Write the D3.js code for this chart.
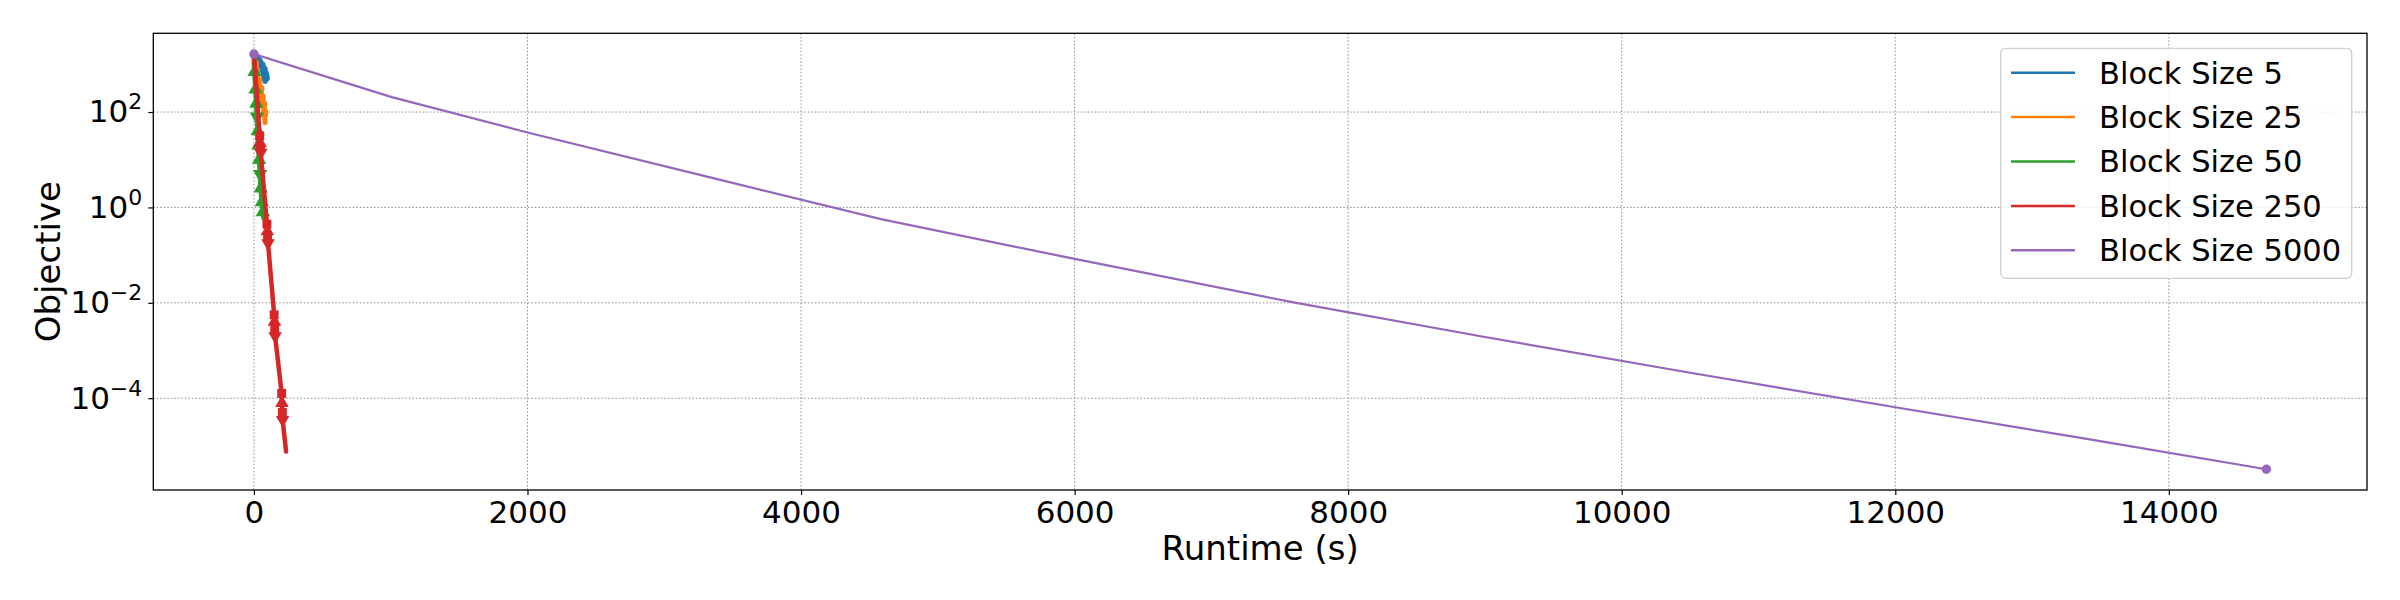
<!DOCTYPE html>
<head>
  <meta charset="utf-8">
  <style>
  body { margin: 0; background: #fff; }
  * { font-family: "DejaVu Sans"; }
  .grid line { stroke: #8c8c8c; stroke-dasharray: 1.5,2; stroke-width: 1; }
  .series { fill: none; stroke-linejoin: round; stroke-linecap: round; }
  </style>
  <title>Objective vs Runtime</title>
</head>
<body>
<svg width="2400" height="600"></svg>
<script src="https://d3js.org/d3.v7.min.js"></script>
<script>
// runtime (s) and objective values
var labels = ["Block Size 5", "Block Size 25", "Block Size 50", "Block Size 250", "Block Size 5000"];
var colors = ["#1f77b4", "#ff7f0e", "#2ca02c", "#d62728", "#9467bd"];

var bs5_t   = [0, 15, 35, 55, 70, 80, 85, 82];
var bs5_y   = [1644, 1400, 1150, 950, 780, 620, 520, 437];

var bs25_t  = [0, 10, 20, 35, 50, 60, 70, 78, 82];
var bs25_y  = [1644, 1000, 700, 450, 300, 200, 140, 95, 60];

var bs50_t  = [0, 5, 12, 18, 22, 28, 33, 38, 45, 50, 58, 65, 72];
var bs50_y  = [1644, 700, 300, 150, 80, 40, 20, 10, 5, 2.5, 1.3, 0.8, 0.6];

var bs250_t = [0, 42, 45, 48, 50, 95, 98, 100, 103, 148, 150, 152, 155, 203, 205, 208, 210, 235];
var bs250_y = [1644, 31.6, 22.4, 17.8, 14.1, 0.447, 0.316, 0.251, 0.178,
               5.6e-3, 4.0e-3, 2.8e-3, 2.0e-3, 1.26e-4, 7.9e-5, 5.0e-5, 3.5e-5, 7.6e-6];

var bs5000_t = [0, 1008, 2000, 3350, 4584, 6000, 7600, 9000, 10500, 12000, 13400, 14713];
var bs5000_y = [1644, 206, 37.3, 4.16, 0.569, 0.0832, 0.0102, 1.92e-3, 3.42e-4, 6.46e-5, 1.40e-5, 3.24e-6];

var xTicks = [0, 2000, 4000, 6000, 8000, 10000, 12000, 14000];
var yTicks = [1e2, 1e0, 1e-2, 1e-4];

var series = [
  {t: bs5_t, y: bs5_y, w: 5, marker: d3.symbolCircle, msize: 60},
  {t: bs25_t, y: bs25_y, w: 5, marker: d3.symbolSquare, msize: 50},
  {t: bs50_t, y: bs50_y, w: 5, marker: d3.symbolTriangle, msize: 90},
  {t: bs250_t, y: bs250_y, w: 4.5, marker: d3.symbolSquare, msize: 80},
  {t: bs5000_t, y: bs5000_y, w: 2.2, marker: d3.symbolCircle, msize: 70, ends: true}
];

var svg = d3.select("svg");
var plotL = 153.3, plotR = 2367, plotT = 33.3, plotB = 490;

// matplotlib style 5% margins
var allT = d3.merge(series.map(function(s) { return s.t; }));
var allY = d3.merge(series.map(function(s) { return s.y; }));
var tMin = d3.min(allT), tMax = d3.max(allT);
var lMin = Math.log10(d3.min(allY)), lMax = Math.log10(d3.max(allY));
var tPad = (tMax - tMin) * 0.05, lPad = (lMax - lMin) * 0.05;

var x = d3.scaleLinear().domain([tMin - tPad, tMax + tPad]).range([plotL, plotR]);
var y = d3.scaleLog().domain([Math.pow(10, lMin - lPad), Math.pow(10, lMax + lPad)]).range([plotB, plotT]);

// grid
var grid = svg.append("g").attr("class", "grid");
grid.selectAll(".gx").data(xTicks).enter().append("line")
    .attr("x1", function(d) { return x(d); }).attr("x2", function(d) { return x(d); })
    .attr("y1", plotT).attr("y2", plotB);
grid.selectAll(".gy").data(yTicks).enter().append("line")
    .attr("y1", function(d) { return y(d); }).attr("y2", function(d) { return y(d); })
    .attr("x1", plotL).attr("x2", plotR);

var plot = svg.append("g");
var line = d3.line()
    .x(function(d) { return x(d[0]); })
    .y(function(d) { return y(d[1]); });

series.forEach(function(s, i) {
  var pts = s.t.map(function(t, j) { return [t, s.y[j]]; });
  plot.append("path")
      .attr("class", "series")
      .attr("d", line(pts))
      .attr("stroke", colors[i])
      .attr("stroke-width", s.w);
  var mpts = s.ends ? [pts[0], pts[pts.length - 1]] : pts.slice(1, -1);
  plot.selectAll(".m" + i).data(mpts).enter().append("path")
      .attr("d", function(d, j) {
        var type = (!s.ends && i >= 2 && j % 2) ? d3.symbolTriangle : s.marker;
        return d3.symbol().type(type).size(s.msize)();
      })
      .attr("transform", function(d, j) {
        var rot = (!s.ends && j % 4 === 3) ? " rotate(180)" : "";
        return "translate(" + x(d[0]) + "," + y(d[1]) + ")" + rot;
      })
      .attr("fill", colors[i]);
});

// axes
var xAxis = d3.axisBottom(x).tickValues(xTicks).tickSize(5).tickPadding(6).tickFormat(d3.format("d"));
var gx = svg.append("g").attr("transform", "translate(0," + plotB + ")").call(xAxis);
gx.select(".domain").remove();
gx.selectAll("text").attr("font-size", 31).attr("font-family", "DejaVu Sans").attr("fill", "#000");
gx.selectAll("line").attr("stroke", "#000").attr("stroke-width", 1.2);

var yAxis = d3.axisLeft(y).tickValues(yTicks).tickSize(5).tickPadding(6).tickFormat("");
var gy = svg.append("g").attr("transform", "translate(" + plotL + ",0)").call(yAxis);
gy.select(".domain").remove();
gy.selectAll("line").attr("stroke", "#000").attr("stroke-width", 1.2);
gy.selectAll(".tick").append("text")
    .attr("x", -11).attr("dy", "0.32em")
    .attr("text-anchor", "end")
    .attr("font-size", 31).attr("fill", "#000")
    .each(function(d) {
      var e = Math.round(Math.log10(d));
      var t = d3.select(this);
      t.append("tspan").text("10");
      t.append("tspan").attr("dy", -13).attr("font-size", 22)
          .text(e < 0 ? "\u2212" + (-e) : String(e));
    });

// frame
svg.append("rect")
    .attr("x", plotL).attr("y", plotT)
    .attr("width", plotR - plotL).attr("height", plotB - plotT)
    .attr("fill", "none").attr("stroke", "#000").attr("stroke-width", 1.3);

// axis labels
svg.append("text")
    .attr("x", (plotL + plotR) / 2).attr("y", 560)
    .attr("text-anchor", "middle").attr("font-size", 34)
    .text("Runtime (s)");
svg.append("text")
    .attr("transform", "translate(60," + ((plotT + plotB) / 2) + ") rotate(-90)")
    .attr("text-anchor", "middle").attr("font-size", 34)
    .text("Objective");

// legend
var lg = svg.append("g");
lg.append("rect")
    .attr("x", 2000.7).attr("y", 48.3).attr("width", 351).attr("height", 230)
    .attr("rx", 5).attr("fill", "#fff").attr("fill-opacity", 0.8)
    .attr("stroke", "#d0d0d0").attr("stroke-width", 1.3);
labels.forEach(function(l, i) {
  var cy = 72.7 + i * 44.4;
  lg.append("line")
      .attr("x1", 2011).attr("x2", 2075).attr("y1", cy).attr("y2", cy)
      .attr("stroke", colors[i]).attr("stroke-width", 2.5);
  lg.append("text")
      .attr("x", 2099).attr("y", cy).attr("dy", "0.36em")
      .attr("font-size", 30.5).text(l);
});
</script>
</body>
